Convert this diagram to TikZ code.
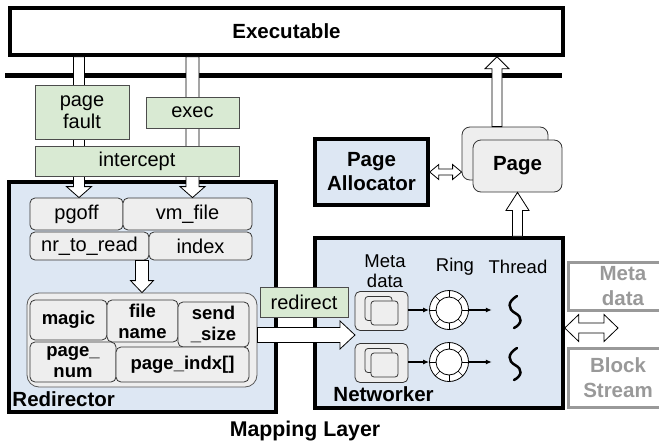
\documentclass[tikz,border=0pt]{standalone}
\usepackage{fontspec}
\setmainfont{Liberation Sans}
\usetikzlibrary{calc,arrows.meta}
\definecolor{grn}{HTML}{D9EAD3}
\definecolor{lay}{HTML}{DDE7F3}
\definecolor{fld}{HTML}{EEEEEE}
\definecolor{gry}{HTML}{999999}
\def\fatarrow[#1](#2)(#3)(#4:#5:#6)% Syntax: [draw options] (start)(end)(half shaft:half head:head length)
{ \draw[#1] let \p1=(#2), \p2=(#3), \n1={atan2(\y2-\y1,\x2-\x1)}, \n2={veclen(\x2-\x1,\y2-\y1)} in
	[shift={(\p1)}, rotate=\n1] (0,-#4) -- ({\n2-#6},-#4) -- ({\n2-#6},-#5) -- (\n2,0) -- ({\n2-#6},#5) -- ({\n2-#6},#4) -- (0,#4) -- cycle; }
\def\fatdarrow[#1](#2)(#3)(#4:#5:#6)% same, with a head at both ends
{ \draw[#1] let \p1=(#2), \p2=(#3), \n1={atan2(\y2-\y1,\x2-\x1)}, \n2={veclen(\x2-\x1,\y2-\y1)} in
	[shift={(\p1)}, rotate=\n1] (0,0) -- (#6,-#5) -- (#6,-#4) -- ({\n2-#6},-#4) -- ({\n2-#6},-#5) -- (\n2,0) -- ({\n2-#6},#5) -- ({\n2-#6},#4) -- (#6,#4) -- (#6,#5) -- cycle; }

\begin{document}
\begin{tikzpicture}[x=1pt,y=-1pt,
	reg/.style={font=\fontsize{20}{22}\selectfont},
	bld/.style={font=\bfseries\fontsize{20.5}{24}\selectfont},
	layer/.style={draw, line width=3.5pt, fill=lay, inner sep=0pt},
	hook/.style={draw=black!70, fill=grn, line width=0.8pt, inner sep=0pt, align=center, reg},
	field/.style={draw=black!80, fill=fld, rounded corners=5pt, line width=0.8pt, inner sep=0pt, align=center, font=\bfseries\fontsize{18.5}{21}\selectfont},
	sheet/.style={draw=black!80, fill=fld, rounded corners=3pt, line width=0.8pt, minimum width=27pt, minimum height=24pt, inner sep=0pt},
	ring/.style={circle, draw, fill=white, line width=0.8pt, minimum size=39pt, inner sep=0pt},
	fat/.style={draw, fill=white, line width=0.8pt, line join=miter},
	store/.style={draw=gry, line width=3pt, text=gry, align=center, inner sep=0pt, font=\bfseries\fontsize{20.5}{25}\selectfont},
	thread/.style={line width=2.5pt, line cap=round},
	link/.style={-{Latex[length=6pt,width=5pt]}, line width=1.2pt}]
	\useasboundingbox (0,0) rectangle (659,447);
	\clip (0,0) rectangle (659,447);

	%layers
	\draw[line width=4.5pt] (5,75.5) -- (562,75.5);		%kernel border
	\node[layer, fill=white, minimum width=553pt, minimum height=47pt, bld] (exe) at (286.5,31.5) {Executable};
	\node[layer, minimum width=267pt, minimum height=230pt] (redir) at (142.5,297) {};
	\node[layer, minimum width=248pt, minimum height=170pt] (net) at (439,323) {};
	\node[layer, minimum width=113pt, minimum height=66pt, bld, align=center] (alloc) at (371.5,172) {Page\\Allocator};
	\node[bld, anchor=south west, inner sep=2pt] (redirlbl) at ($(redir.south west)+(3,-5)$) {Redirector};
	\node[bld, anchor=south west, inner sep=2pt] (netlbl) at ($(net.south west)+(18,-6)$) {Networker};
	\node[font=\bfseries\fontsize{21.3}{24}\selectfont] (maplbl) at (305,431) {Mapping Layer};

	%redirector fields
	\node[field, reg, minimum width=93pt, minimum height=32pt] (pgoff) at (76.5,214) {pgoff};
	\node[field, reg, minimum width=129pt, minimum height=32pt] (vmfile) at (187.5,214) {vm\_file};
	\node[field, reg, minimum width=119pt, minimum height=28pt] (nrread) at (89.5,246) {nr\_to\_read};
	\node[field, reg, minimum width=103pt, minimum height=28pt] (index) at (200.5,246) {index};
	\node[field, draw=black!65, rounded corners=12pt, minimum width=230pt, minimum height=94pt] (pkt) at (142,340) {};
	\node[field, minimum width=77pt, minimum height=40pt] (magic) at (68.5,320) {magic};
	\node[field, minimum width=71pt, minimum height=42pt] (fname) at (142.5,321) {file\\name};
	\node[field, minimum width=71pt, minimum height=45pt] (ssize) at (213.5,324.5) {send\\\_size};
	\node[field, minimum width=86pt, minimum height=40pt] (pnum) at (73,362) {page\_\\num};
	\node[field, minimum width=133pt, minimum height=35pt] (pidx) at (182.5,364.5) {page\_indx[]};

	%page
	\node[field, rounded corners=8pt, minimum width=86pt, minimum height=53pt] (pgback) at (505,153.5) {};
	\node[field, rounded corners=8pt, minimum width=89pt, minimum height=52pt, bld] (pgfront) at (517.5,166) {Page};

	%networker
	\node[font=\fontsize{18.5}{20}\selectfont, align=center] (mdlbl) at (385,271) {Meta\\data};
	\node[font=\fontsize{18.5}{20}\selectfont] (ringlbl) at (455,267) {Ring};
	\node[font=\fontsize{18.5}{20}\selectfont] (thrlbl) at (518,267) {Thread};
	\foreach \i/\yy in {1/310,2/362}{
		\node[field, minimum width=53pt, minimum height=39pt] (md\i) at (381.5,\yy+1) {};
		\node[sheet] at ($(md\i)+(-3,-2.5)$) {};
		\node[sheet] at ($(md\i)+(3,2)$) {};
		\node[ring] (ring\i) at (449,\yy) {};
		\foreach \a in {0,45,...,315} \draw[line width=0.6pt] (ring\i.center) ++(\a:13) -- ++(\a:6.5);
		\draw[line width=0.8pt] (ring\i.center) circle (13);
		\node[minimum width=40pt, minimum height=38pt] (thr\i) at (515,\yy+2) {};
		\draw[thread, shift={(thr\i.center)}] (2,-16) .. controls (-8,-10) and (-7,-3) .. (0,1) .. controls (8,5) and (7,12) .. (-1,16);
		\draw[link] (md\i.east |- ring\i) -- (ring\i);
		\draw[link, shorten >=3pt] (ring\i) -- (ring\i -| thr\i.west);
	}

	%outside
	\node[store, minimum width=110pt, minimum height=48pt] (meta) at (623,286) {Meta\\data};
	\node[store, minimum width=100pt, minimum height=59pt] (blk) at (618,377.5) {Block\\Stream};

	%fat arrows
	\coordinate (pfx) at (79,0);
	\coordinate (exx) at (192.5,0);
	\coordinate (upx) at (497,0);
	\coordinate (rdtip) at (355,335);
	\coordinate (ext) at (618,328);
	\fatarrow[fat](exe.south -| pfx)(pgoff.north -| pfx)(5.5:12.5:11)
	\fatarrow[fat](exe.south -| exx)(vmfile.north -| exx)(6.5:12.5:11)
	\fatarrow[fat](nrread.south -| pkt.north)(pkt.north)(6.5:11.5:12)
	\fatarrow[fat](pkt.east |- rdtip)(rdtip)(7.5:14:15)
	\fatarrow[fat](net.north -| pgfront)(pgfront.south)(5:11.5:18)
	\fatarrow[fat](pgback.north -| upx)(exe.south -| upx)(5:12:12)
	\fatdarrow[fat](alloc.east)(alloc.east -| pgback.west)(3:7.5:9)
	\fatdarrow[fat](net.east |- ext)(ext)(5:13.5:14)

	%hooks
	\node[hook, minimum width=94pt, minimum height=54pt] (fault) at (82,112) {page\\fault};
	\node[hook, minimum width=93pt, minimum height=31pt] (exec) at (192.5,112.5) {exec};
	\node[hook, minimum width=204pt, minimum height=30pt] (icpt) at (137,161) {intercept};
	\node[hook, minimum width=88pt, minimum height=30pt] (rdct) at (304,302) {redirect};
\end{tikzpicture}
\end{document}
